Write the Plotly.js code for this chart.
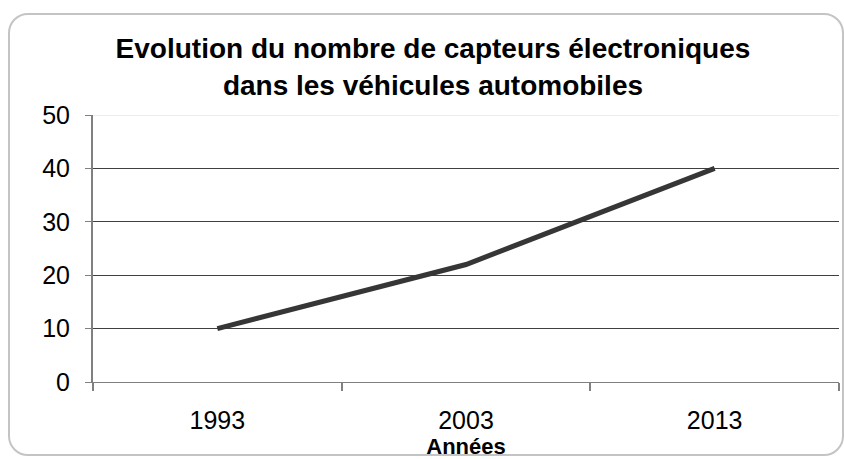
<!DOCTYPE html>
<html>
<head>
<meta charset="utf-8">
<script src="https://cdn.plot.ly/plotly-3.0.1.min.js"></script>
<style>
  html, body { margin: 0; padding: 0; background: #ffffff; }
  #wrap { position: relative; width: 844px; height: 459px; overflow: hidden; }
  #frame { position: absolute; left: 8px; top: 13px; width: 836px; height: 443px;
           border: 2px solid #c4c4c4; border-radius: 20px; box-sizing: border-box; }
  #chart { position: absolute; left: 0; top: 0; width: 844px; height: 459px; }
</style>
</head>
<body>
<div id="wrap">
  <div id="frame"></div>
  <div id="chart"></div>
</div>
<script>
const years = ['1993', '2003', '2013'];
const capteurs = [10, 22, 40];
const yTicks = [0, 10, 20, 30, 40, 50];
const titleLine1 = 'Evolution du nombre de capteurs électroniques';
const titleLine2 = 'dans les véhicules automobiles';
const xTitle = 'Années';

const FONT = '"Liberation Sans", Arial, sans-serif';

const trace = {
  type: 'scatter',
  mode: 'lines',
  x: years,
  y: capteurs,
  line: { color: '#363636', width: 5 },
  hoverinfo: 'x+y'
};

const layout = {
  width: 844,
  height: 459,
  margin: { l: 93, r: 5, t: 115, b: 77 },
  paper_bgcolor: 'rgba(0,0,0,0)',
  plot_bgcolor: 'rgba(0,0,0,0)',
  font: { family: FONT, color: '#000000' },
  showlegend: false,
  title: {
    text: titleLine1 + '<br>' + titleLine2,
    font: { family: FONT, size: 28, weight: 'bold', color: '#000000' },
    xref: 'container', x: 0.513, xanchor: 'center',
    yref: 'container', y: 0.873, yanchor: 'middle'
  },
  xaxis: {
    type: 'category',
    range: [-0.5, 2.5],
    tickson: 'boundaries',
    ticks: 'outside',
    ticklen: 8,
    tickwidth: 2,
    tickcolor: '#808080',
    showline: true,
    linecolor: '#808080',
    linewidth: 1,
    showgrid: false,
    zeroline: false,
    tickfont: { family: FONT, size: 25, color: '#000000' },
    ticklabelstandoff: 16,
    title: {
      text: xTitle,
      font: { family: FONT, size: 22, weight: 'bold', color: '#000000' },
      standoff: -2
    },
    fixedrange: true
  },
  yaxis: {
    range: [0, 50],
    tickvals: yTicks,
    ticktext: yTicks.map(String),
    ticks: 'outside',
    ticklen: 6,
    tickwidth: 1,
    tickcolor: '#808080',
    showline: true,
    linecolor: '#808080',
    linewidth: 2,
    showgrid: true,
    gridcolor: '#404040',
    gridwidth: 1,
    zeroline: false,
    tickfont: { family: FONT, size: 25, color: '#000000' },
    ticklabelstandoff: 10,
    fixedrange: true
  },
  shapes: [
    { type: 'line', xref: 'paper', yref: 'y', x0: 0, x1: 1, y0: 50, y1: 50,
      line: { color: '#dcdcdc', width: 1 }, layer: 'above' }
  ]
};

Plotly.newPlot('chart', [trace], layout, { displayModeBar: false, staticPlot: true });
</script>
</body>
</html>
